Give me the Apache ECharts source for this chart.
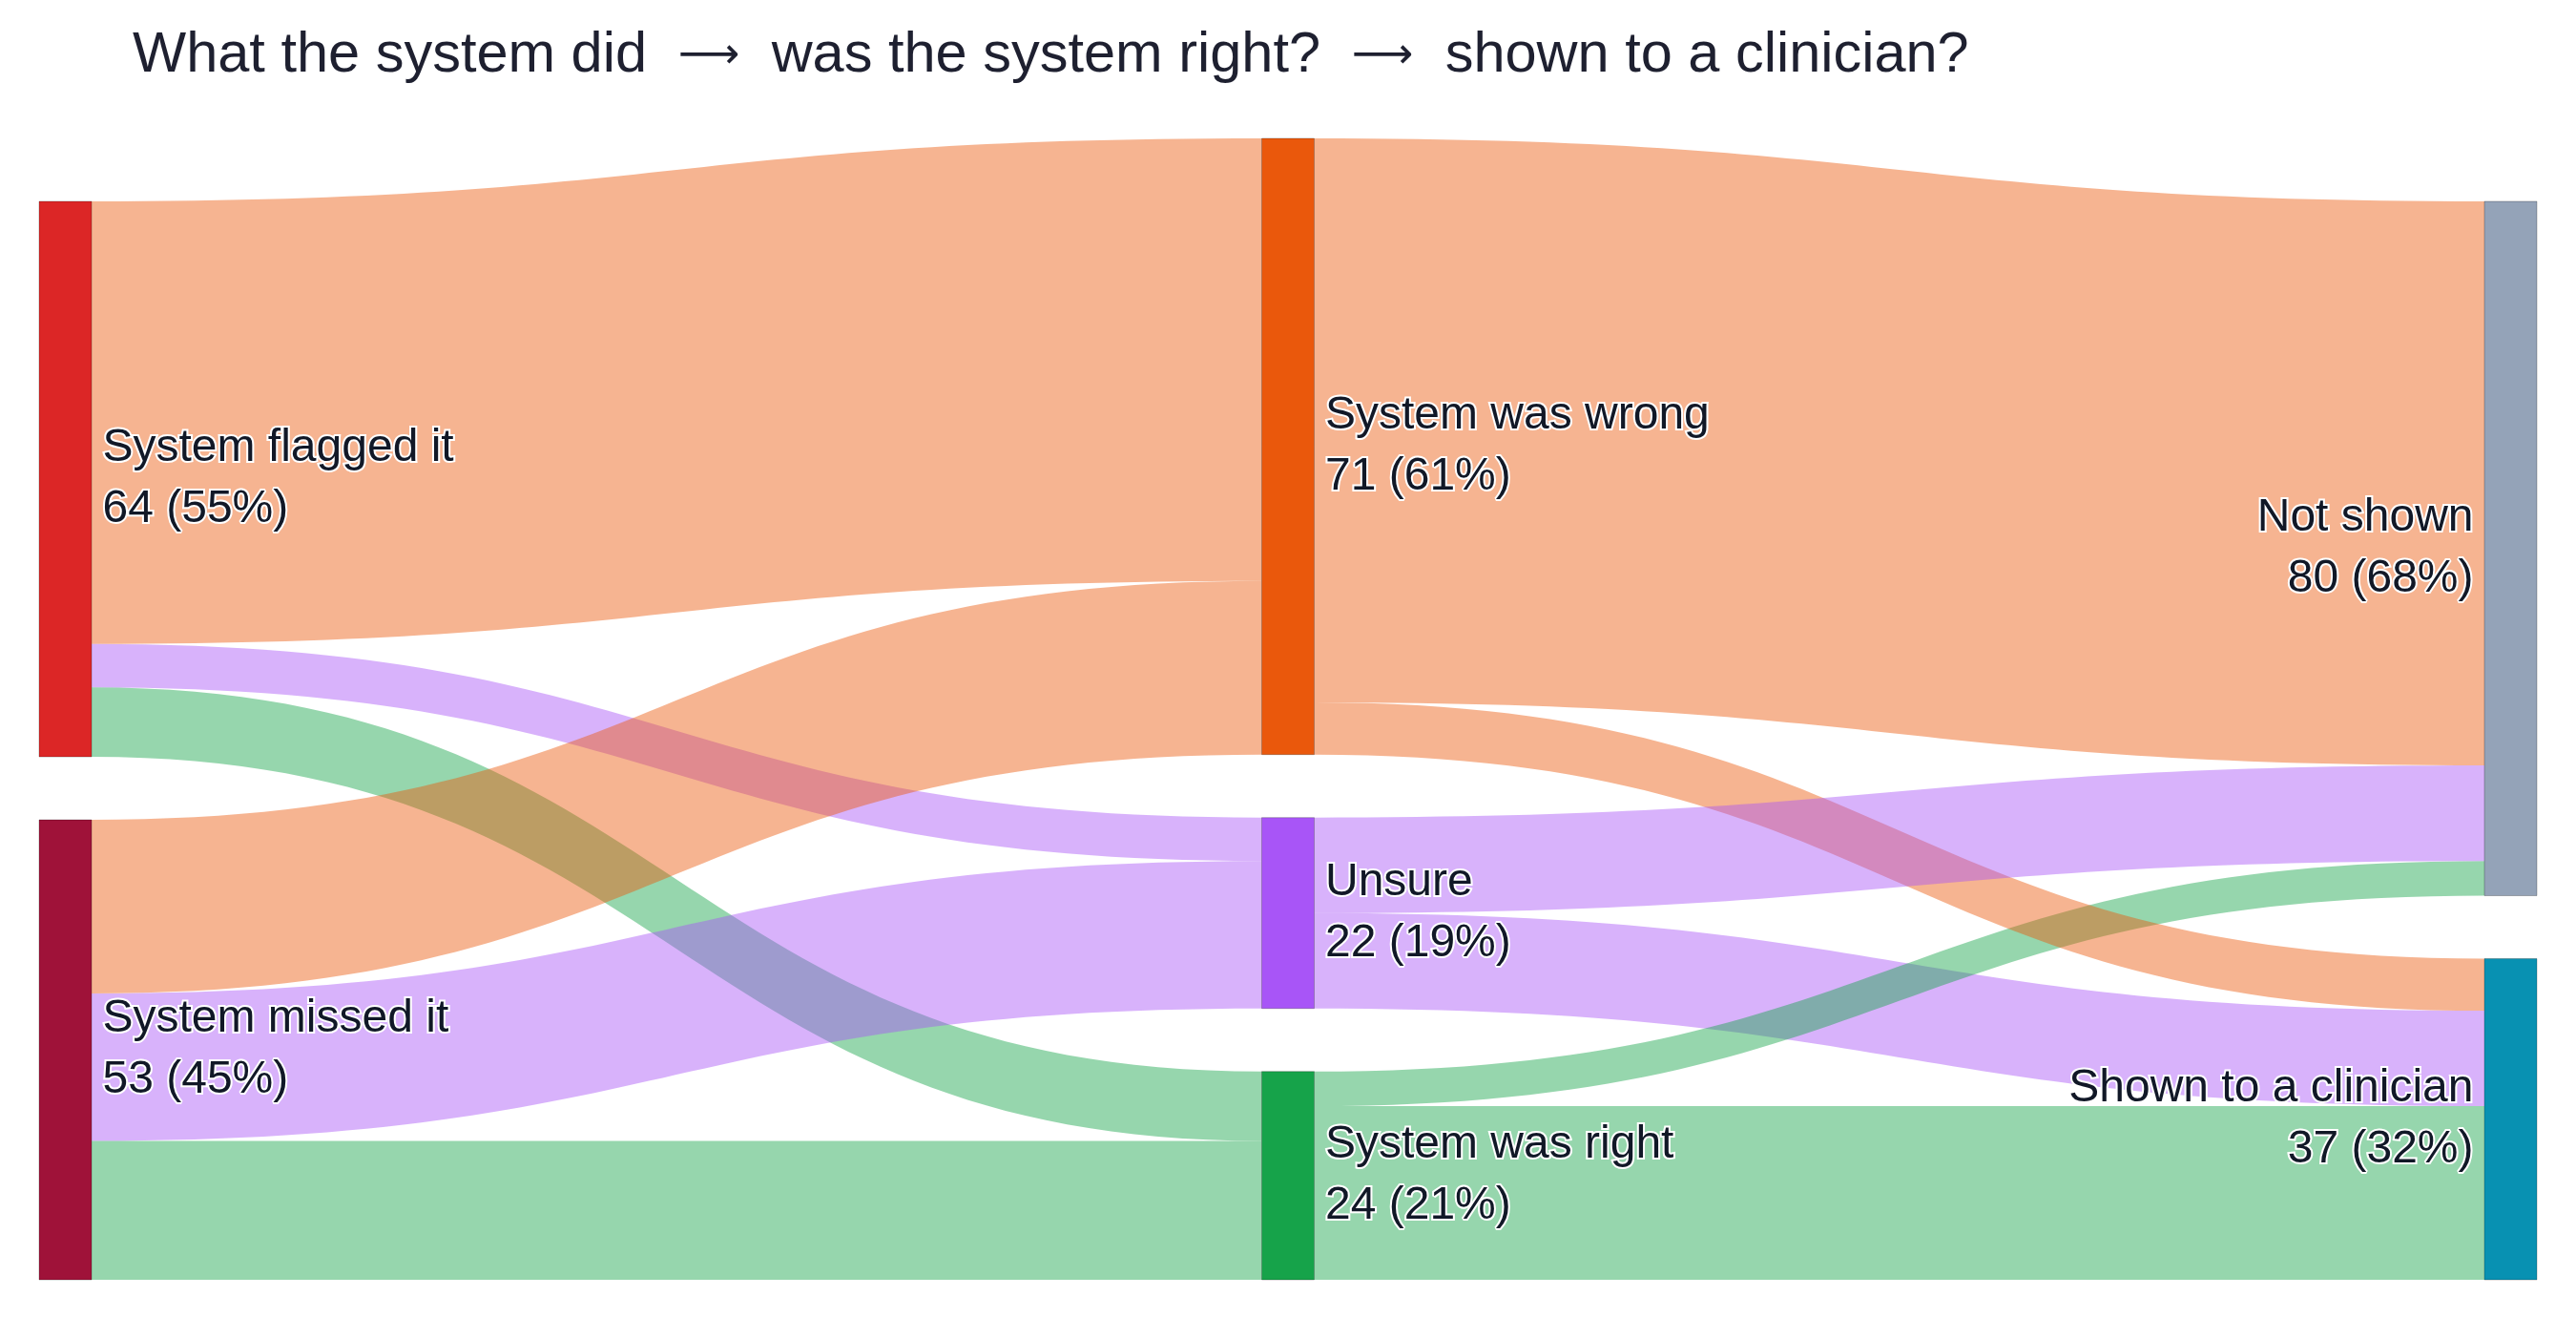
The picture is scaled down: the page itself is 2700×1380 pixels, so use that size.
<!DOCTYPE html>
<html>
<head>
<meta charset="utf-8">
<script src="https://cdn.jsdelivr.net/npm/echarts@6/dist/echarts.min.js"></script>
<style>
  html, body { margin: 0; padding: 0; background: #fff; }
  #chart { width: 2700px; height: 1380px; }
</style>
</head>
<body>
<div id="chart"></div>
<script>
// nodes, left to right
var nodeNames = ['System flagged it', 'System missed it', 'System was wrong', 'Unsure', 'System was right', 'Not shown', 'Shown to a clinician']

// flows (in drawing order)
var linkSources = ['System flagged it', 'System flagged it', 'System flagged it', 'System missed it', 'System missed it', 'System missed it',
  'System was wrong', 'Unsure', 'System was right', 'System was wrong', 'Unsure', 'System was right']
var linkTargets = ['System was wrong', 'Unsure', 'System was right', 'System was wrong', 'Unsure', 'System was right',
  'Not shown', 'Shown to a clinician', 'Not shown', 'Shown to a clinician', 'Not shown', 'Shown to a clinician']
var linkValues = [51, 5, 8, 20, 17, 16, 65, 11, 4, 6, 11, 20]

var total = 117

// title pieces
var titleSteps = ['What the system did', 'was the system right?', 'shown to a clinician?']

// colours per node
var colors = {
  'System flagged it': '#dc2626',
  'System missed it': '#9f1239',
  'System was wrong': '#ea580c',
  'Unsure': '#a855f7',
  'System was right': '#16a34a',
  'Not shown': '#94a3b8',
  'Shown to a clinician': '#0891b2'
}
var middle = ['System was wrong', 'Unsure', 'System was right']

var chart = echarts.init(document.getElementById('chart'))

var nodes = nodeNames.map(function (n) {
  var isRight = n === 'Not shown' || n === 'Shown to a clinician'
  return {
    name: n,
    itemStyle: { color: colors[n], borderColor: 'rgba(0,0,0,0.25)', borderWidth: 1 },
    label: { position: isRight ? 'left' : 'right', align: isRight ? 'right' : 'left' }
  }
})

var links = linkSources.map(function (s, i) {
  var t = linkTargets[i]
  // links take the colour of the middle node they touch
  var c = middle.indexOf(t) >= 0 ? colors[t] : colors[s]
  return { source: s, target: t, value: linkValues[i], lineStyle: { color: c, opacity: 0.45 } }
})

var titleText = titleSteps.map(function (s) { return '{t|' + s + '}' }).join('{t|  }{a|\u27f6}{t|  }')

var option = {
  backgroundColor: '#fff',
  title: {
    text: titleText,
    left: 134,
    top: 24,
    textStyle: {
      fontWeight: 'normal',
      rich: {
        t: { fontFamily: 'Liberation Sans', fontSize: 59.5, fontWeight: 'normal', color: '#1e2030' },
        a: { fontFamily: 'DejaVu Sans', fontSize: 45, fontWeight: 'normal', color: '#1e2030' }
      }
    }
  },
  series: [{
    type: 'sankey',
    left: 41,
    right: 41,
    top: 145,
    bottom: 39,
    nodeWidth: 55,
    nodeGap: 66,
    draggable: false,
    emphasis: { disabled: true },
    data: nodes,
    links: links,
    lineStyle: { curveness: 0.5 },
    label: {
      fontFamily: 'Liberation Sans',
      fontSize: 48,
      lineHeight: 64,
      color: '#111827',
      textBorderColor: '#fff',
      textBorderWidth: 4,
      distance: 11,
      formatter: function (p) {
        return p.name + '\n' + p.value + ' (' + Math.round(p.value / total * 100) + '%)'
      }
    }
  }]
}

chart.setOption(option)
</script>
</body>
</html>
